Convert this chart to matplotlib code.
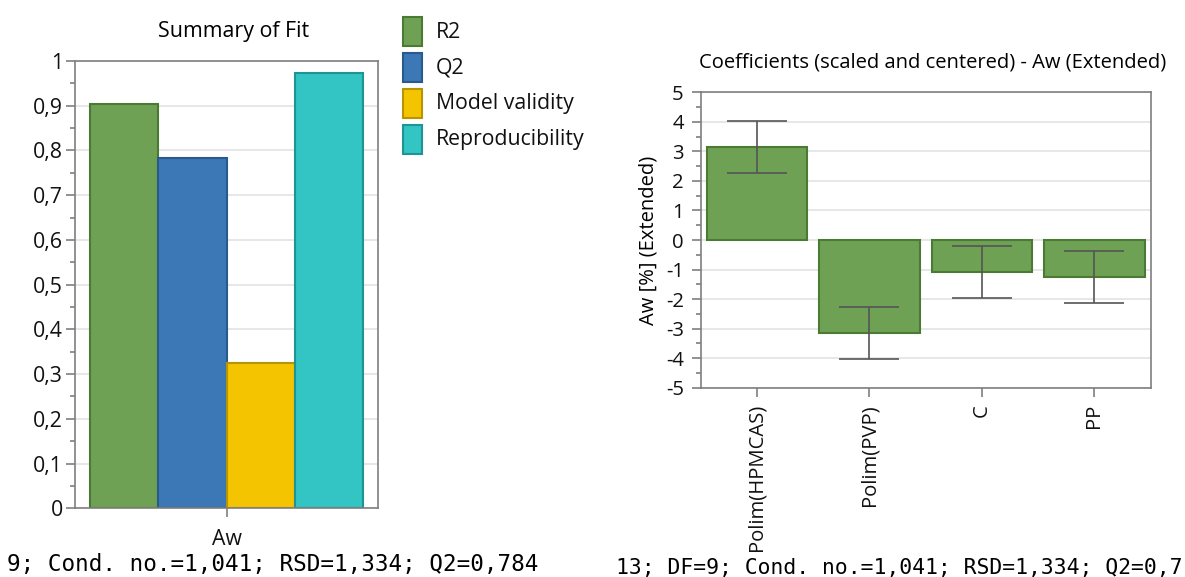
import matplotlib
matplotlib.use("Agg")
import matplotlib.pyplot as plt
from matplotlib.patches import Rectangle
from matplotlib.ticker import MultipleLocator

# Summary of fit data
fit_labels = ['R2', 'Q2', 'Model validity', 'Reproducibility']
fit_values = [0.903, 0.784, 0.325, 0.973]
fit_colors = ['#6FA155', '#3B78B5', '#F5C400', '#33C4C4']
fit_edges = ['#4B7A35', '#285A8C', '#B89400', '#1F9494']
fit_response = 'Aw'

# Coefficient data
coef_terms = ['Polim(HPMCAS)', 'Polim(PVP)', 'C', 'PP']
coef_values = [3.14, -3.14, -1.09, -1.25]
coef_errors = [0.875, 0.875, 0.875, 0.87]

left_yticks = [0, 0.1, 0.2, 0.3, 0.4, 0.5, 0.6, 0.7, 0.8, 0.9, 1.0]
left_ylabels = ['0', '0,1', '0,2', '0,3', '0,4', '0,5', '0,6', '0,7', '0,8', '0,9', '1']
right_yticks = [-5, -4, -3, -2, -1, 0, 1, 2, 3, 4, 5]

plt.rcParams['font.family'] = ['Open Sans', 'DejaVu Sans']
W, H = 1185, 577
fig = plt.figure(figsize=(W / 100, H / 100), dpi=100)

spine_col = '#7F7F7F'
grid_col = '#E3E3E3'


def style_axes(ax, fs, ypad):
    for s in ax.spines.values():
        s.set_color(spine_col)
        s.set_linewidth(1.2)
    ax.tick_params(axis='both', which='major', length=6.7, width=1.2, color=spine_col,
                   labelsize=fs, labelcolor='#111111')
    ax.tick_params(axis='y', which='major', pad=ypad)
    ax.tick_params(axis='y', which='minor', length=3.6, width=1.2, color=spine_col)
    ax.grid(axis='y', color=grid_col, linewidth=1.2)
    ax.set_axisbelow(True)


# ---- left: Summary of Fit ----
ax1 = fig.add_axes([75 / W, (H - 508.3) / H, 303 / W, 447.3 / H])
bw = 0.2
n = len(fit_values)
for i, (v, c, e) in enumerate(zip(fit_values, fit_colors, fit_edges)):
    x = (i - (n - 1) / 2) * bw
    ax1.bar(x, v, width=bw, color=c, edgecolor=e, linewidth=1.5, zorder=2)
ax1.set_xlim(-0.445, 0.445)
ax1.set_ylim(0, 1)
ax1.set_yticks(left_yticks)
ax1.set_yticklabels(left_ylabels)
ax1.yaxis.set_minor_locator(MultipleLocator(0.05))
ax1.set_xticks([0])
ax1.set_xticklabels([fit_response])
style_axes(ax1, 15.3, 1.8)
ax1.tick_params(axis='x', pad=8)
ax1.set_title('Summary of Fit', fontsize=15.4, pad=17, x=(234 - 75) / 303)

# legend drawn as figure-level boxes
for i, (lab, c, e) in enumerate(zip(fit_labels, fit_colors, fit_edges)):
    top = 17 + 36 * i
    fig.add_artist(Rectangle((403 / W, (H - top - 29) / H), 19 / W, 29 / H,
                             facecolor=c, edgecolor=e, linewidth=1.5,
                             transform=fig.transFigure))
    fig.text(436 / W, (H - top - 15) / H, lab, fontsize=15.3, va='center', ha='left',
             color='#111111')

fig.text(7 / W, (H - 564) / H, '9; Cond. no.=1,041; RSD=1,334; Q2=0,784',
         family='DejaVu Sans Mono', fontsize=16.3, va='center', ha='left')

# ---- right: Coefficients ----
ax2 = fig.add_axes([700.7 / W, (H - 387.7) / H, 450 / W, 295.4 / H])
xs = list(range(len(coef_terms)))
ax2.bar(xs, coef_values, width=0.895, color='#6FA155', edgecolor='#4B7A35',
        linewidth=1.5, zorder=2)
ax2.errorbar(xs, coef_values, yerr=coef_errors, fmt='none', ecolor='#555555',
             elinewidth=1.2, capsize=21.6, capthick=1.2, zorder=3)
ax2.set_xlim(-0.5, 3.5)
ax2.set_ylim(-5, 5)
ax2.set_yticks(right_yticks)
ax2.set_yticklabels([str(t) for t in right_yticks])
ax2.yaxis.set_minor_locator(MultipleLocator(0.5))
ax2.set_xticks(xs)
ax2.set_xticklabels(coef_terms, rotation=90)
style_axes(ax2, 14.6, 5.5)
ax2.tick_params(axis='x', pad=5)
ax2.set_ylabel('Aw [%] (Extended)', fontsize=14.5, labelpad=5)
ax2.set_title('Coefficients (scaled and centered) - Aw (Extended)', fontsize=14.5,
              pad=18, x=(933 - 700.7) / 450)

fig.text(616 / W, (H - 568) / H, '13; DF=9; Cond. no.=1,041; RSD=1,334; Q2=0,7',
         family='DejaVu Sans Mono', fontsize=15.4, va='center', ha='left')

fig.savefig('out.png', dpi=100, facecolor='white')
